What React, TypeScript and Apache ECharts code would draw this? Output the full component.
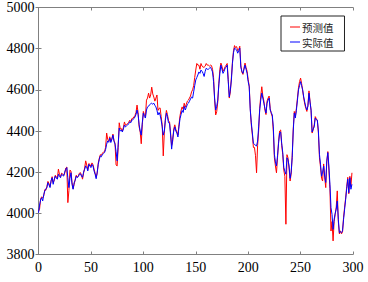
import React, { useEffect, useRef } from "react";
import * as echarts from "echarts";

const xTicks = [0, 50, 100, 150, 200, 250, 300];
const yTicks = [3800, 4000, 4200, 4400, 4600, 4800, 5000];
const seriesNames = ["预测值", "实际值"];

const actual = [
  4003, 4040, 4065, 4076, 4060, 4090, 4109, 4118, 4125, 4149,
  4138, 4125, 4160, 4173, 4141, 4165, 4181, 4170, 4166, 4190,
  4180, 4173, 4190, 4185, 4181, 4200, 4214, 4222, 4173, 4125,
  4170, 4197, 4140, 4117, 4149, 4160, 4181, 4173, 4178, 4190,
  4192, 4181, 4175, 4200, 4214, 4230, 4225, 4206, 4238, 4230,
  4222, 4238, 4230, 4206, 4190, 4168, 4200, 4238, 4262, 4279,
  4275, 4287, 4290, 4295, 4310, 4336, 4352, 4345, 4366, 4344,
  4360, 4380, 4350, 4336, 4300, 4255, 4336, 4414, 4400, 4405,
  4395, 4410, 4429, 4420, 4425, 4429, 4435, 4445, 4440, 4453,
  4455, 4460, 4468, 4480, 4502, 4480, 4430, 4400, 4380, 4440,
  4487, 4470, 4463, 4502, 4517, 4520, 4528, 4532, 4535, 4530,
  4535, 4525, 4517, 4500, 4478, 4490, 4478, 4453, 4420, 4380,
  4400, 4450, 4487, 4470, 4440, 4437, 4380, 4312, 4360, 4400,
  4420, 4400, 4390, 4371, 4420, 4460, 4480, 4500, 4490, 4520,
  4502, 4515, 4530, 4535, 4545, 4555, 4565, 4560, 4590, 4620,
  4648, 4660, 4672, 4687, 4680, 4696, 4690, 4680, 4665, 4690,
  4705, 4700, 4700, 4705, 4710, 4700, 4687, 4640, 4560, 4502,
  4520, 4550, 4624, 4680, 4720, 4700, 4680, 4690, 4705, 4710,
  4720, 4640, 4565, 4600, 4648, 4728, 4780, 4803, 4798, 4794,
  4778, 4790, 4803, 4710, 4690, 4680, 4700, 4720, 4700, 4680,
  4640, 4615, 4502, 4440, 4390, 4340, 4336, 4330, 4327, 4351,
  4420, 4502, 4550, 4584, 4560, 4535, 4510, 4487, 4535, 4550,
  4560, 4502, 4490, 4478, 4420, 4287, 4250, 4230, 4280, 4340,
  4390, 4395, 4340, 4295, 4222, 4205, 4190, 4270, 4260, 4230,
  4170, 4200, 4271, 4400, 4487, 4463, 4500, 4550, 4600, 4620,
  4640, 4620, 4600, 4565, 4540, 4517, 4502, 4520, 4584, 4540,
  4502, 4395, 4410, 4420, 4463, 4455, 4453, 4400, 4287, 4238,
  4180, 4200, 4230, 4180, 4150, 4255, 4295, 4230, 4141, 4027,
  3995, 3922, 3971, 4000, 4020, 4060, 3971, 3906, 3910, 3906,
  3915, 3971, 4020, 4068, 4120, 4166, 4100, 4173, 4117, 4141,
];

const predicted = [
  4010, 4020, 4070, 4080, 4075, 4085, 4115, 4112, 4130, 4155,
  4145, 4130, 4155, 4178, 4150, 4160, 4185, 4178, 4170, 4215,
  4190, 4178, 4195, 4192, 4185, 4195, 4220, 4225, 4052, 4110,
  4210, 4205, 4150, 4120, 4140, 4165, 4185, 4178, 4182, 4195,
  4198, 4185, 4166, 4195, 4220, 4255, 4235, 4212, 4242, 4238,
  4228, 4245, 4236, 4215, 4195, 4175, 4195, 4245, 4268, 4285,
  4282, 4292, 4298, 4300, 4320, 4390, 4360, 4350, 4372, 4350,
  4362, 4385, 4355, 4340, 4235, 4230, 4320, 4440, 4410, 4412,
  4400, 4418, 4444, 4428, 4432, 4436, 4442, 4452, 4446, 4460,
  4462, 4468, 4475, 4490, 4526, 4490, 4420, 4395, 4338, 4430,
  4495, 4480, 4470, 4550, 4560, 4584, 4560, 4575, 4613, 4580,
  4565, 4545, 4560, 4575, 4500, 4510, 4512, 4470, 4430, 4279,
  4390, 4460, 4500, 4480, 4450, 4445, 4390, 4330, 4350, 4410,
  4430, 4408, 4395, 4380, 4430, 4475, 4500, 4517, 4505, 4535,
  4515, 4530, 4545, 4550, 4560, 4570, 4590, 4600, 4620, 4660,
  4696, 4728, 4720, 4720, 4700, 4728, 4715, 4710, 4710, 4715,
  4728, 4720, 4720, 4715, 4720, 4718, 4700, 4660, 4550, 4478,
  4494, 4540, 4630, 4700, 4730, 4715, 4690, 4700, 4712, 4720,
  4728, 4650, 4560, 4590, 4660, 4735, 4790, 4815, 4805, 4810,
  4790, 4795, 4812, 4720, 4685, 4675, 4705, 4730, 4708, 4690,
  4650, 4620, 4510, 4430, 4380, 4320, 4320, 4280, 4197, 4330,
  4400, 4510, 4570, 4615, 4570, 4545, 4500, 4480, 4545, 4560,
  4570, 4510, 4485, 4470, 4400, 4270, 4230, 4197, 4270, 4350,
  4400, 4405, 4330, 4285, 4210, 4180, 3947, 4285, 4270, 4220,
  4157, 4190, 4280, 4410, 4495, 4470, 4510, 4560, 4610, 4640,
  4657, 4630, 4595, 4560, 4530, 4510, 4495, 4525, 4595, 4545,
  4500, 4390, 4405, 4430, 4470, 4460, 4450, 4390, 4270, 4225,
  4170, 4157, 4240, 4175, 4125, 4250, 4300, 4210, 4120, 3914,
  3960, 3866, 3960, 3995, 4030, 4109, 3960, 3900, 3915, 3900,
  3910, 3980, 4030, 4075, 4130, 4175, 4095, 4180, 4130, 4197,
];

export default function App() {
  const ref = useRef<HTMLDivElement>(null);
  useEffect(() => {
    document.body.style.margin = "0";
    const chart = echarts.init(ref.current!, null, { renderer: "svg" });
    const axisColor = "#808080";
    const labelFont = {
      fontFamily: "Liberation Serif",
      fontSize: 14,
      color: "#000",
      formatter: (v: number) => String(v),
    };
    const xMin = xTicks[0];
    const xMax = xTicks[xTicks.length - 1];
    const xInt = xTicks[1] - xTicks[0];
    const yMin = yTicks[0];
    const yMax = yTicks[yTicks.length - 1];
    const yInt = yTicks[1] - yTicks[0];
    const baseX = {
      type: "value" as const,
      min: xMin,
      max: xMax,
      interval: xInt,
      splitLine: { show: false },
      axisLine: { show: true, lineStyle: { color: axisColor, width: 1 } },
      axisTick: { show: true, inside: true, length: 3, lineStyle: { color: axisColor } },
    };
    const baseY = {
      type: "value" as const,
      min: yMin,
      max: yMax,
      interval: yInt,
      splitLine: { show: false },
      axisLine: { show: true, lineStyle: { color: axisColor, width: 1 } },
      axisTick: { show: true, inside: true, length: 3, lineStyle: { color: axisColor } },
    };
    chart.setOption({
      animation: false,
      backgroundColor: "#fff",
      grid: { left: 38.5, right: 15, top: 7.5, bottom: 27.5, containLabel: false },
      xAxis: [
        { ...baseX, position: "bottom", axisLabel: { ...labelFont, margin: 6 } },
        { ...baseX, position: "top", axisLabel: { show: false } },
      ],
      yAxis: [
        { ...baseY, position: "left", axisLabel: { ...labelFont, margin: 4 } },
        { ...baseY, position: "right", axisLabel: { show: false } },
      ],
      legend: {
        orient: "vertical",
        left: 281,
        top: 16,
        data: seriesNames.map((n) => ({ name: n, icon: "rect" })),
        backgroundColor: "#fff",
        borderColor: "#222",
        borderWidth: 1,
        borderRadius: 0,
        padding: [5, 11, 3, 9],
        itemWidth: 10,
        itemHeight: 1,
        itemGap: 3,
        textStyle: {
          fontFamily: "Noto Sans CJK SC",
          fontSize: 10.5,
          color: "#222",
          padding: [0, 0, 0, -3],
          lineHeight: 12,
        },
      },
      series: [
        {
          name: seriesNames[0],
          type: "line",
          data: predicted.map((v, i) => [i, v]),
          showSymbol: false,
          symbol: "none",
          lineStyle: { color: "#ff0000", width: 1 },
          itemStyle: { color: "#ff0000" },
        },
        {
          name: seriesNames[1],
          type: "line",
          data: actual.map((v, i) => [i, v]),
          showSymbol: false,
          symbol: "none",
          lineStyle: { color: "#0000ff", width: 1 },
          itemStyle: { color: "#0000ff" },
        },
      ],
    });
    return () => chart.dispose();
  }, []);
  return <div ref={ref} style={{ width: 368, height: 282 }} />;
}
